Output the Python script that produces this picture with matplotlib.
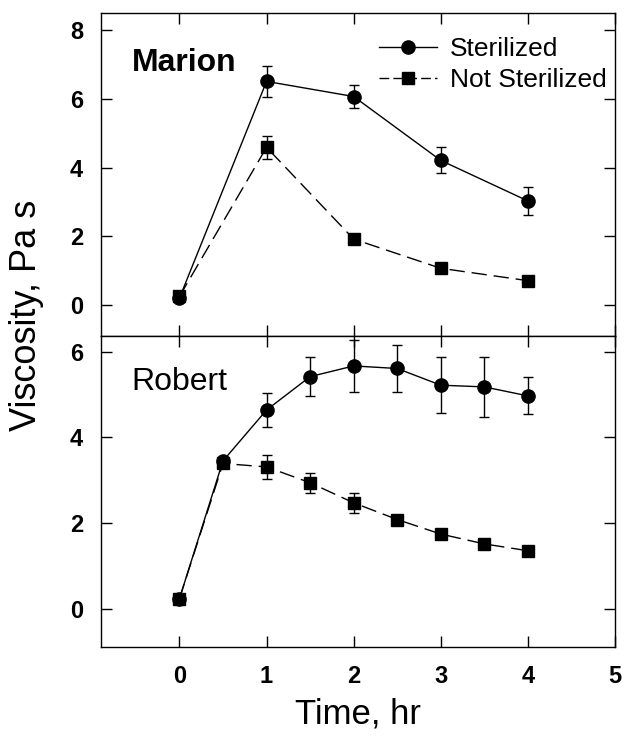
import matplotlib
matplotlib.use("Agg")
import matplotlib.pyplot as plt
from matplotlib.lines import Line2D

plt.rcParams['font.family'] = ['Liberation Sans', 'DejaVu Sans']

# Marion
marion_t = [0, 1, 2, 3, 4]
marion_ster = [0.20, 6.51, 6.07, 4.21, 3.03]
marion_ster_err = [0.0, 0.45, 0.33, 0.38, 0.40]
marion_not = [0.25, 4.59, 1.92, 1.07, 0.71]
marion_not_err = [0.0, 0.34, 0.0, 0.0, 0.0]

# Robert
robert_t = [0, 0.5, 1, 1.5, 2, 2.5, 3, 3.5, 4]
robert_ster = [0.23, 3.45, 4.64, 5.42, 5.67, 5.61, 5.22, 5.18, 4.97]
robert_ster_err = [0.0, 0.0, 0.39, 0.45, 0.60, 0.54, 0.66, 0.71, 0.43]
robert_not = [0.23, 3.39, 3.31, 2.94, 2.47, 2.08, 1.74, 1.51, 1.35]
robert_not_err = [0.0, 0.0, 0.28, 0.23, 0.23, 0.0, 0.0, 0.0, 0.0]

fig = plt.figure(figsize=(6.24, 7.36), dpi=100)
left, width = 0.1619, 0.8237
ax1 = fig.add_axes([left, 0.5435, width, 0.4388])
ax2 = fig.add_axes([left, 0.1209, width, 0.4226])

dash = (0, (11, 5))
ster_kw = dict(color='black', marker='o', markersize=9.5, linewidth=1.0,
               linestyle='-', capsize=3.8, elinewidth=1.0, capthick=1.0)
not_kw = dict(color='black', marker='s', markersize=8.5, linewidth=1.0,
              linestyle=dash, capsize=3.8, elinewidth=1.0, capthick=1.0)

ax1.errorbar(marion_t, marion_ster, yerr=marion_ster_err, **ster_kw)
ax1.errorbar(marion_t, marion_not, yerr=marion_not_err, **not_kw)
ax2.errorbar(robert_t, robert_ster, yerr=robert_ster_err, **ster_kw)
ax2.errorbar(robert_t, robert_not, yerr=robert_not_err, **not_kw)

ax1.set_ylim(-0.9, 8.5)
ax1.set_yticks([0, 2, 4, 6, 8])
ax2.set_ylim(-0.9, 6.37)
ax2.set_yticks([0, 2, 4, 6])

for ax in (ax1, ax2):
    ax.set_xlim(-0.9, 5)
    ax.set_xticks([0, 1, 2, 3, 4, 5])
    ax.tick_params(direction='in', top=True, right=True, length=8, width=1,
                   labelsize=17, pad=13)
    for lab in ax.get_yticklabels() + ax.get_xticklabels():
        lab.set_fontweight('bold')
    for s in ax.spines.values():
        s.set_linewidth(1.0)

ax1.tick_params(labelbottom=False)
ax2.set_xlabel('Time, hr', fontsize=25, labelpad=7)

ax1.text(-0.55, 7.05, 'Marion', fontsize=23, fontweight='bold', va='center')
ax2.text(-0.55, 5.3, 'Robert', fontsize=23, va='center')

handles = [
    Line2D([], [], color='black', marker='o', markersize=9.5, linewidth=1.0),
    Line2D([], [], color='black', marker='s', markersize=8.5, linewidth=1.0,
           linestyle=(0, (7, 3))),
]
ax1.legend(handles, ['Sterilized', 'Not Sterilized'], loc='center left',
           bbox_to_anchor=(0.54, 0.84), frameon=False, fontsize=19,
           handlelength=2.2, handletextpad=0.5, borderpad=0,
           borderaxespad=0, labelspacing=0.25)

fig.text(0.043, 0.571, 'Viscosity, Pa s', rotation=90, fontsize=26,
         ha='center', va='center')

fig.savefig('out.png', dpi=100)
